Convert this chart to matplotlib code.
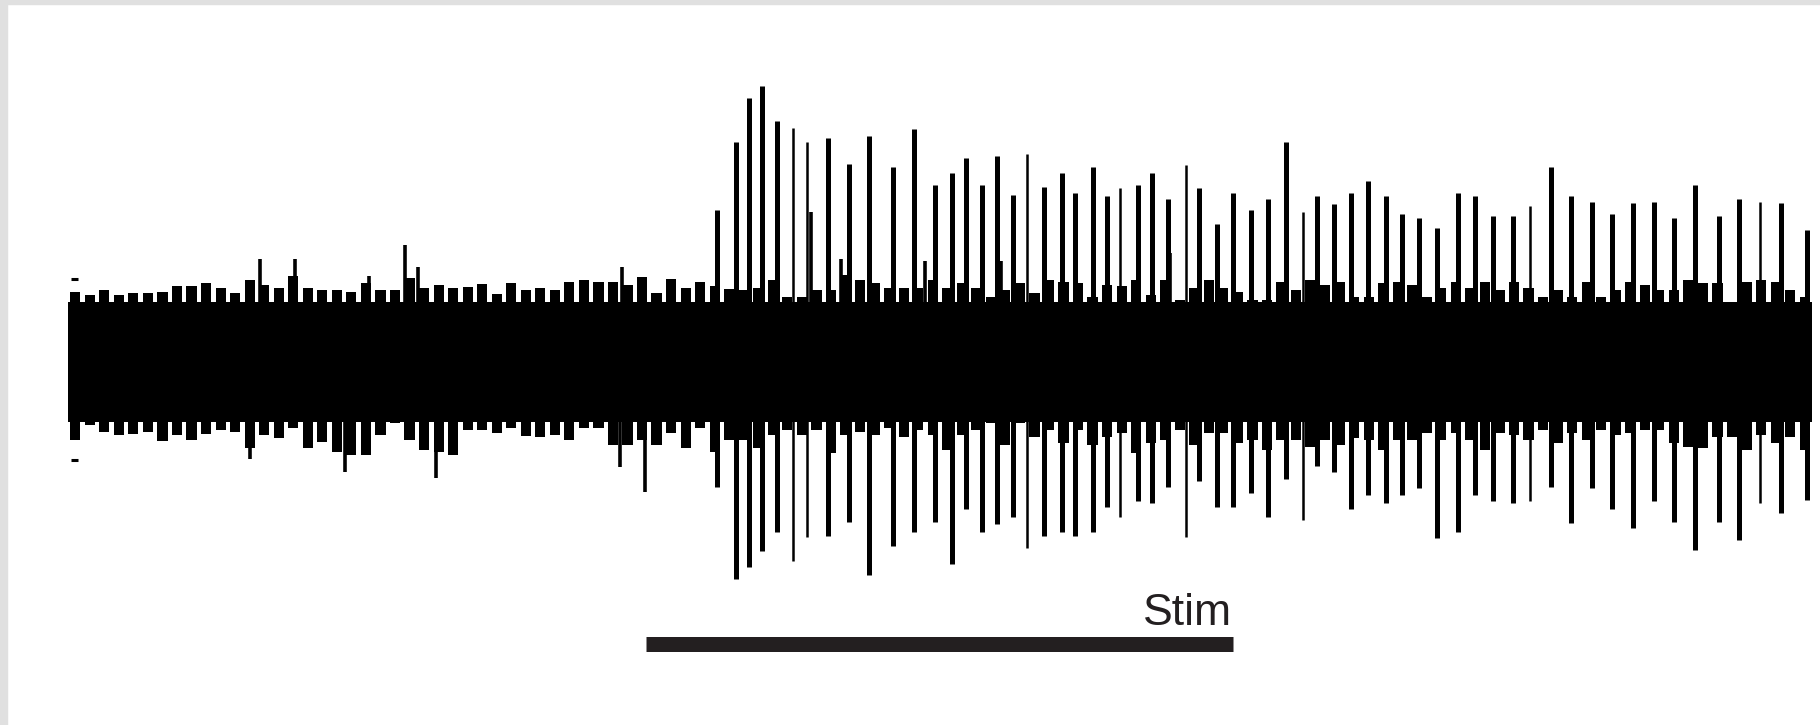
import numpy as np
import matplotlib.pyplot as plt
from matplotlib.patches import Rectangle

# Extracellular trace, 1 s bins from 0 to 120 s (values in uV)
# upper / lower edge of the background noise band, one value per second
noise_upper = [70, 67, 72, 67, 69, 69, 70, 76, 76, 79,
               74, 69, 82, 77, 74, 86, 74, 72, 72, 70,
               79, 72, 72, 84, 74, 77, 74, 75, 78, 68,
               79, 72, 74, 72, 80, 82, 80, 80, 77, 85,
               69, 83, 74, 80, 76, 73, 72, 74, 82, 65,
               65, 72, 72, 87, 82, 79, 74, 74, 74, 82,
               74, 79, 74, 65, 72, 79, 69, 82, 80, 79,
               65, 77, 76, 82, 67, 82, 62, 74, 82, 74,
               70, 62, 62, 80, 72, 82, 77, 80, 65, 65,
               79, 80, 77, 65, 74, 80, 74, 80, 72, 80,
               74, 65, 72, 65, 80, 65, 72, 80, 77, 72,
               72, 82, 79, 79, 60, 80, 82, 80, 72, 65]
noise_lower = [-78, -63, -70, -73, -72, -70, -79, -73, -78, -72,
               -68, -70, -86, -73, -76, -66, -86, -80, -90, -93,
               -93, -73, -61, -78, -88, -90, -93, -68, -68, -71,
               -66, -74, -75, -73, -78, -66, -66, -83, -83, -78,
               -83, -71, -86, -66, -90, -78, -78, -86, -73, -68,
               -73, -68, -91, -73, -70, -73, -66, -75, -68, -73,
               -88, -73, -68, -61, -83, -61, -75, -68, -81, -68,
               -83, -75, -71, -91, -81, -78, -68, -83, -71, -71,
               -81, -78, -88, -78, -78, -85, -78, -83, -76, -78,
               -88, -78, -78, -71, -78, -71, -78, -88, -71, -73,
               -78, -68, -81, -71, -78, -68, -73, -71, -68, -68,
               -81, -85, -86, -75, -75, -88, -73, -81, -75, -88]
# solid part of the noise band
noise_floor = (-60, 60)

# large units (s, peak uV, trough uV)
spike_t = [44.66, 45.96, 46.86, 47.75, 48.79, 49.89, 50.85, 52.29, 53.74, 55.12,
           56.77, 58.21, 59.66, 60.83, 61.79, 62.89, 63.92, 65.02, 65.99, 67.16,
           68.40, 69.29, 70.53, 71.49, 72.39, 73.63, 74.59, 75.69, 76.93, 77.82,
           79.06, 80.16, 81.40, 82.57, 83.81, 84.98, 85.94, 87.11, 88.28, 89.45,
           90.69, 91.79, 92.96, 94.20, 95.64, 96.81, 98.05, 99.43, 100.60, 102.04,
           103.42, 104.87, 106.24, 107.69, 109.13, 110.51, 111.95, 113.60, 114.98, 116.42,
           117.87, 119.66]
spike_peak = [152, 220, 264, 276, 241, 234, 220, 224, 198, 226,
              195, 233, 177, 189, 204, 177, 206, 167, 208, 175,
              189, 169, 195, 166, 174, 177, 189, 163, 197, 174,
              138, 169, 152, 163, 220, 150, 166, 158, 169, 181,
              166, 148, 144, 134, 169, 166, 146, 146, 156, 195,
              166, 160, 148, 159, 160, 144, 177, 146, 163, 160,
              159, 132]
spike_trough = [-125, -217, -205, -189, -170, -199, -175, -174, -160, -213,
                -184, -170, -160, -202, -147, -170, -162, -155, -186, -174,
                -170, -174, -170, -145, -155, -139, -141, -125, -175, -119,
                -145, -145, -131, -155, -117, -158, -104, -110, -147, -133,
                -141, -133, -126, -176, -170, -133, -139, -141, -139, -125,
                -161, -126, -147, -166, -139, -160, -188, -160, -178, -141,
                -151, -138]

# smaller single deflections riding on the noise
small_up_t = [13.21, 15.62, 20.71, 23.19, 24.08, 38.12, 51.13, 53.19, 58.97, 64.20, 75.83]
small_up_v = [103, 103, 86, 117, 95, 95, 150, 103, 101, 101, 109]
small_dn_t = [12.52, 19.06, 25.32, 37.98, 39.70]
small_dn_v = [-97, -110, -116, -105, -130]

stim_on, stim_off = 39.77, 80.16

# pixel layout of the original panel
px_per_s = 14.533
x0_px = 68
fig = plt.figure(figsize=(18.2, 7.25), dpi=100)
ax = fig.add_axes([0, 0, 1, 1])
ax.set_xlim(-x0_px / px_per_s, (1820 - x0_px) / px_per_s)
ax.set_ylim(-363, 362)
ax.axis('off')

# noise: solid core plus one tooth per second
n = len(noise_upper)
ax.fill_between([0, n], noise_floor[0], noise_floor[1], color='black', lw=0)
centers = np.arange(n) + 0.5
lo = np.array(noise_lower)
hi = np.array(noise_upper)
ax.bar(centers, hi - lo, bottom=lo, width=0.7, color='black', lw=0)

thin = {5, 6, 18, 24, 28, 35, 48, 59}
widths = [1.8 if i in thin else 3.6 for i in range(len(spike_t))]
ax.vlines(spike_t, spike_trough, spike_peak, colors='black',
          linewidth=widths, capstyle='butt')
ax.vlines(small_up_t, 0, small_up_v, colors='black', linewidth=2.6, capstyle='butt')
ax.vlines(small_dn_t, small_dn_v, 0, colors='black', linewidth=2.6, capstyle='butt')

# little marks at the start of the trace
ax.hlines([83, -98], 0.2, 0.7, colors='black', linewidth=2.2)

# stimulus bar
ax.hlines(-282, stim_on, stim_off, colors='#231f20', linewidth=10.8, capstyle='butt')
ax.text(80.1, -263, 'Stim', ha='right', va='baseline', fontsize=32,
        color='#231f20', family=['Liberation Sans', 'DejaVu Sans'])

# grey frame on the top and left edge
fig.patches.append(Rectangle((0, 0), 7 / 1820, 1, transform=fig.transFigure,
                             color='#e0e0e0', zorder=5))
fig.patches.append(Rectangle((0, 1 - 4 / 725), 1, 4 / 725, transform=fig.transFigure,
                             color='#e0e0e0', zorder=5))

fig.savefig('out.png', dpi=100)
